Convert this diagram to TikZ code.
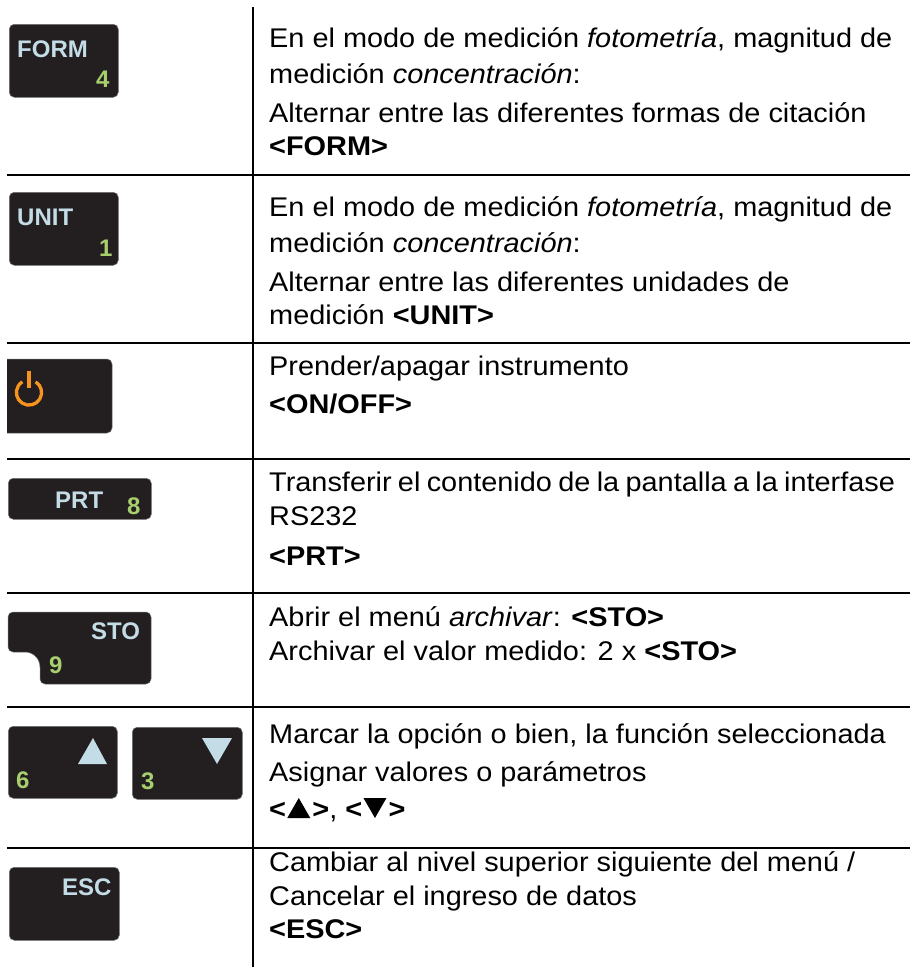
\documentclass[tikz,border=0pt]{standalone}
\usepackage{fontspec}
\setmainfont{Liberation Sans}
\newfontfamily\descfont{Liberation Sans}[FakeStretch=1.07]
\definecolor{keyfill}{HTML}{231F20}
\definecolor{keyedge}{HTML}{707070}
\definecolor{keytext}{HTML}{C3DCE6}
\definecolor{keynum}{HTML}{A8CF6E}
\definecolor{pwr}{HTML}{F7941D}
\begin{document}
\begin{tikzpicture}[x=1pt,y=-1pt,
  keybox/.style={fill=keyfill, draw=keyedge, line width=0.5pt, rounded corners=5pt, inner sep=0pt, anchor=north west},
  klabel/.style={font=\fontsize{24}{24}\selectfont\bfseries, text=keytext, inner sep=0pt, anchor=base west},
  kdigit/.style={klabel, text=keynum},
  desc/.style={font=\descfont\fontsize{27}{30}\selectfont, inner sep=0pt, anchor=base west},
  rule/.style={line width=1.2pt, black}]
\useasboundingbox (0,0) rectangle (910,967);
\fill[white] (0,0) rectangle (910,967);
% rules
\coordinate (vt) at (253,7);
\coordinate (vb) at (253,967);
\draw[rule] (vt) -- (vb);
\foreach \yy/\nm in {175/a,343/b,459/c,593/d,707/e,848/f}{
  \coordinate (l\nm) at (7,\yy);
  \coordinate (r\nm) at (910,\yy);
  \draw[rule] (l\nm) -- (r\nm);
}
% FORM key
\node[keybox, minimum width=109pt, minimum height=73pt] (kform) at (9,24) {};
\node[klabel] (tform) at (17,57) {FORM};
\node[kdigit] (nform) at (96,87) {4};
% UNIT key
\node[keybox, minimum width=109pt, minimum height=73pt] (kunit) at (9,192) {};
\node[klabel] (tunit) at (17,225) {UNIT};
\node[kdigit] (nunit) at (99,256) {1};
% power key
\path[fill=keyfill, draw=keyedge, line width=0.5pt] (7,359) -- (107,359) arc[start angle=-90, end angle=0, radius=5]
  -- (112,428) arc[start angle=0, end angle=90, radius=5] -- (7,433);
\draw[pwr, line width=3.3pt] (29,392.5) ++(-58:12.6) arc[start angle=-58, end angle=238, radius=12.6];
\coordinate (pb1) at (29,370.5);
\coordinate (pb2) at (29,388);
\draw[pwr, line width=4pt] (pb1) -- (pb2);
% PRT key
\node[keybox, minimum width=143pt, minimum height=41pt] (kprt) at (8,478) {};
\node[klabel] (tprt) at (55,508) {PRT};
\node[kdigit] (nprt) at (127,514) {8};
% STO key
\path[fill=keyfill, draw=keyedge, line width=0.5pt] (8,617) arc[start angle=180, end angle=270, radius=5]
  -- (146,612) arc[start angle=270, end angle=360, radius=5]
  -- (151,679) arc[start angle=0, end angle=90, radius=5]
  -- (45,684) arc[start angle=90, end angle=180, radius=5]
  -- (40,667) arc[start angle=0, end angle=-90, radius=15]
  -- (13,652) arc[start angle=90, end angle=180, radius=5] -- cycle;
\node[klabel] (tsto) at (91,639) {STO};
\node[kdigit] (nsto) at (49,673) {9};
% up / down keys
\node[keybox, minimum width=109pt, minimum height=72pt] (kup) at (8,726) {};
\fill[keytext] (93,738) -- (107,764) -- (78,764) -- cycle;
\node[kdigit] (nup) at (16,788) {6};
\node[keybox, minimum width=110pt, minimum height=72pt] (kdown) at (132,727) {};
\fill[keytext] (202,738) -- (232,738) -- (217,764) -- cycle;
\node[kdigit] (ndown) at (141,789) {3};
% ESC key
\node[keybox, minimum width=110pt, minimum height=73pt] (kesc) at (9,867) {};
\node[klabel] (tesc) at (62,895) {ESC};
% descriptions
\node[desc] (d11) at (269,47) {En el modo de medición \textit{fotometría}, magnitud de};
\node[desc] (d12) at (269,83) {medición \textit{concentración}:};
\node[desc] (d13) at (269,122) {Alternar entre las diferentes formas de citación};
\node[desc] (d14) at (269,155) {\textbf{<FORM>}};
\node[desc] (d21) at (269,216) {En el modo de medición \textit{fotometría}, magnitud de};
\node[desc] (d22) at (269,252) {medición \textit{concentración}:};
\node[desc] (d23) at (269,291) {Alternar entre las diferentes unidades de};
\node[desc] (d24) at (269,324) {medición \textbf{<UNIT>}};
\node[desc] (d31) at (269,375) {Prender/apagar instrumento};
\node[desc] (d32) at (269,413) {\textbf{<ON/OFF>}};
\node[desc] (d41) at (269,491) {\spaceskip=6.3pt Transferir el contenido de la pantalla a la interfase};
\node[desc] (d42) at (269,525) {RS232};
\node[desc] (d43) at (269,565) {\textbf{<PRT>}};
\node[desc] (d51) at (269,626) {Abrir el menú \textit{archivar}: \textbf{<STO>}};
\node[desc] (d52) at (269,660) {Archivar el valor medido: 2 x \textbf{<STO>}};
\node[desc] (d61) at (269,743) {Marcar la opción o bien, la función seleccionada};
\node[desc] (d62) at (269,781) {Asignar valores o parámetros};
\node[desc] (d63a) at (269,818) {\textbf{<}};
\coordinate (t1) at ([xshift=1pt]d63a.base east);
\fill (t1) -- ++(23,0) -- ++(-11.5,-20) -- cycle;
\node[desc] (d63b) at ([xshift=25pt]t1) {\textbf{>}, \textbf{<}};
\coordinate (t2) at ([xshift=1pt]d63b.base east);
\fill (t2) ++(0,-20) -- ++(23,0) -- ++(-11.5,20) -- cycle;
\node[desc] (d63c) at ([xshift=25pt]t2) {\textbf{>}};
\node[desc] (d71) at (269,871) {Cambiar al nivel superior siguiente del menú /};
\node[desc] (d72) at (269,905) {Cancelar el ingreso de datos};
\node[desc] (d73) at (269,938) {\textbf{<ESC>}};
\end{tikzpicture}
\end{document}
